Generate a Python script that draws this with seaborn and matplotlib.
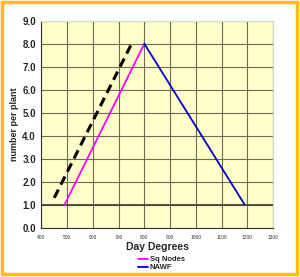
import matplotlib
matplotlib.use("Agg")
import matplotlib.pyplot as plt
import seaborn as sns
import pandas as pd
from matplotlib.patches import Rectangle
from matplotlib.lines import Line2D

sq_x = [490, 800]
sq_y = [1.0, 8.0]
nawf_x = [800, 1190]
nawf_y = [8.0, 1.0]
dash_x = [450, 755]
dash_y = [1.3, 8.1]
x_ticks = list(range(400, 1301, 100))
y_ticks = [0, 1, 2, 3, 4, 5, 6, 7, 8, 9]

sns.set_theme(style="white")
plt.rcParams['font.family'] = ['Arial', 'Liberation Sans', 'DejaVu Sans']

fig = plt.figure(figsize=(3.0, 2.77), dpi=100)
ax = fig.add_axes([0.138, 0.178, 0.772, 0.747])
ax.set_facecolor('#FFFFC8')

df_sq = pd.DataFrame({'x': sq_x, 'y': sq_y})
df_nawf = pd.DataFrame({'x': nawf_x, 'y': nawf_y})
df_dash = pd.DataFrame({'x': dash_x, 'y': dash_y})

ax.set_xlim(400, 1300)
ax.set_ylim(0, 9)
ax.set_xticks(x_ticks)
ax.set_yticks(y_ticks)
ax.grid(True, color='#6b6b58', linewidth=0.8)
ax.set_axisbelow(True)
ax.axhline(1.0, color='#44443a', linewidth=1.3, zorder=1)

sns.lineplot(data=df_sq, x='x', y='y', ax=ax, color='#FF00FF', linewidth=1.3, zorder=3)
sns.lineplot(data=df_nawf, x='x', y='y', ax=ax, color='#0000CC', linewidth=1.3, zorder=3)
sns.lineplot(data=df_dash, x='x', y='y', ax=ax, color='black', linewidth=2.2, zorder=3)
ax.lines[-1].set_dashes([3, 1.8])

ax.set_xticklabels([str(t) for t in x_ticks], fontsize=3.5, color='#333333')
ax.set_yticklabels([f"{t:.1f}" for t in y_ticks], fontsize=7, fontweight='bold')
ax.tick_params(axis='both', length=2, pad=2)
ax.tick_params(axis='x', pad=3)
ax.set_xlabel('Day Degrees', fontsize=7.5, fontweight='bold', labelpad=2)
ax.set_ylabel('number per plant', fontsize=6.5, fontweight='bold', labelpad=2)
for s in ax.spines.values():
    s.set_visible(False)
for side in ['left', 'bottom']:
    ax.spines[side].set_visible(True)
    ax.spines[side].set_color('#333333')
    ax.spines[side].set_linewidth(0.8)
for side in ['top', 'right']:
    ax.spines[side].set_visible(True)
    ax.spines[side].set_color('#d8d8c8')
    ax.spines[side].set_linewidth(0.8)

handles = [Line2D([0], [0], color='#FF00FF', linewidth=1.3),
           Line2D([0], [0], color='#0000CC', linewidth=1.3)]
fig.legend(handles, ['Sq Nodes', 'NAWF'], loc='center left',
           bbox_to_anchor=(0.445, 0.048), frameon=False,
           handlelength=1.3, handletextpad=0.2, labelspacing=0.1,
           borderpad=0.1, prop={'weight': 'bold', 'size': 5.5})

fig.patches.append(Rectangle((0.008, 0.012), 0.981, 0.98, transform=fig.transFigure,
                             fill=False, edgecolor='#FFBF00', linewidth=2.5))

fig.savefig('out.png', dpi=100)
